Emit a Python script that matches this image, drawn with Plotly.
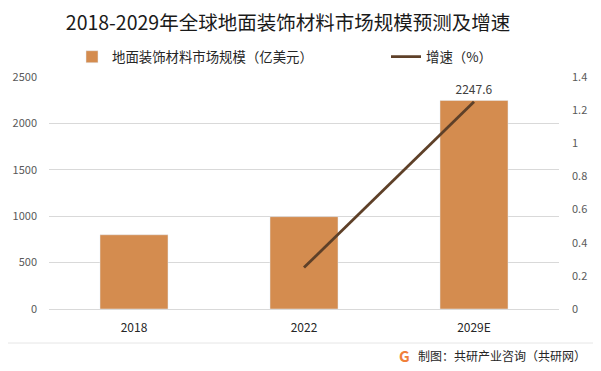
import plotly.graph_objects as go

categories = ["2018", "2022", "2029E"]
market_size = [800, 995, 2247.6]          # 亿美元
growth_cats = ["2022", "2029E"]
growth_rate = [0.25, 1.25]                # %
left_ticks = [0, 500, 1000, 1500, 2000, 2500]
right_ticks = [0, 0.2, 0.4, 0.6, 0.8, 1, 1.2, 1.4]

title_text = "2018-2029年全球地面装饰材料市场规模预测及增速"
bar_name = "地面装饰材料市场规模（亿美元）"
line_name = "增速（%）"
source_text = "制图：共研产业咨询（共研网）"

FONT = "Noto Sans CJK SC, Noto Sans, sans-serif"
BAR_COLOR = "#D48C4F"
LINE_COLOR = "#5E4028"

# page body has an 8px default margin; compensate so the figure fills the window
OFF = 8
PW, PH = 601, 371                 # window size
W, H = PW - OFF, PH - OFF         # figure size
# plot area in window pixels: x 49..559, y 77..309
L, R, T, B = 49 - OFF, PW - 559, 77 - OFF, PH - 309


def cx(x):   # window pixel -> container fraction
    return (x - OFF) / W


def cy(y):   # window pixel -> container fraction
    return 1 - (y - OFF) / H


bar_text = [None] * (len(market_size) - 1) + [f"{market_size[-1]}"]

fig = go.Figure()
fig.add_trace(go.Bar(
    x=categories, y=market_size, name=bar_name,
    marker_color=BAR_COLOR, width=0.4,
    text=bar_text, textposition="outside", cliponaxis=False,
    textfont=dict(size=12, color="#404040", family=FONT),
    legend="legend",
))
fig.add_trace(go.Scatter(
    x=growth_cats, y=growth_rate, name=line_name, mode="lines",
    line=dict(color=LINE_COLOR, width=2.8), yaxis="y2",
    legend="legend2",
))

pw, ph = W - L - R, H - T - B
shapes = [
    dict(type="line", xref="paper", yref="paper",
         x0=(0 - 49) / pw, x1=(PW - 49) / pw,
         y0=(309 - 343) / ph, y1=(309 - 343) / ph,
         line=dict(color="#E6E6E6", width=1)),
]

annotations = [
    dict(text=source_text, xref="paper", yref="paper",
         x=(588 - 49) / pw, y=(309 - 355) / ph,
         xanchor="right", yanchor="middle",
         showarrow=False, font=dict(size=12, color="#262626", family=FONT)),
    dict(text="<b>G</b>", xref="paper", yref="paper",
         x=(404 - 49) / pw, y=(309 - 355) / ph,
         xanchor="center", yanchor="middle",
         showarrow=False, font=dict(size=15, color="#F0803A", family=FONT)),
]

fig.update_layout(
    width=W, height=H,
    margin=dict(l=L, r=R, t=T, b=B, pad=0, autoexpand=False),
    paper_bgcolor="white", plot_bgcolor="white",
    font=dict(family=FONT, size=11, color="#595959"),
    title=dict(text=title_text, xref="container", yref="container",
               x=cx(288), y=cy(23), xanchor="center", yanchor="middle",
               font=dict(size=19.5, color="#1A1A1A", family=FONT)),
    xaxis=dict(type="category", showline=True, linecolor="#D9D9D9",
               ticks="", tickfont=dict(size=12, color="#262626"),
               ticklabelstandoff=8, automargin=False),
    yaxis=dict(range=[0, 2500], tickvals=left_ticks, showgrid=True,
               gridcolor="#D9D9D9", zeroline=False, showline=False,
               ticks="", ticklabelstandoff=11, automargin=False,
               tickfont=dict(size=11, color="#595959")),
    yaxis2=dict(range=[0, 1.4], tickvals=right_ticks, overlaying="y",
                side="right", showgrid=False, zeroline=False,
                showline=False, ticks="", ticklabelstandoff=12,
                automargin=False,
                tickfont=dict(size=11, color="#595959")),
    showlegend=True,
    legend=dict(orientation="h", xref="container", yref="container",
                x=cx(72), y=cy(57), xanchor="left", yanchor="middle",
                font=dict(size=13.4, color="#262626", family=FONT),
                bgcolor="rgba(0,0,0,0)", itemwidth=30),
    legend2=dict(orientation="h", xref="container", yref="container",
                 x=cx(386), y=cy(57), xanchor="left", yanchor="middle",
                 font=dict(size=13.4, color="#262626", family=FONT),
                 bgcolor="rgba(0,0,0,0)", itemwidth=30),
    shapes=shapes,
    annotations=annotations,
)

fig.write_html("out.html")
